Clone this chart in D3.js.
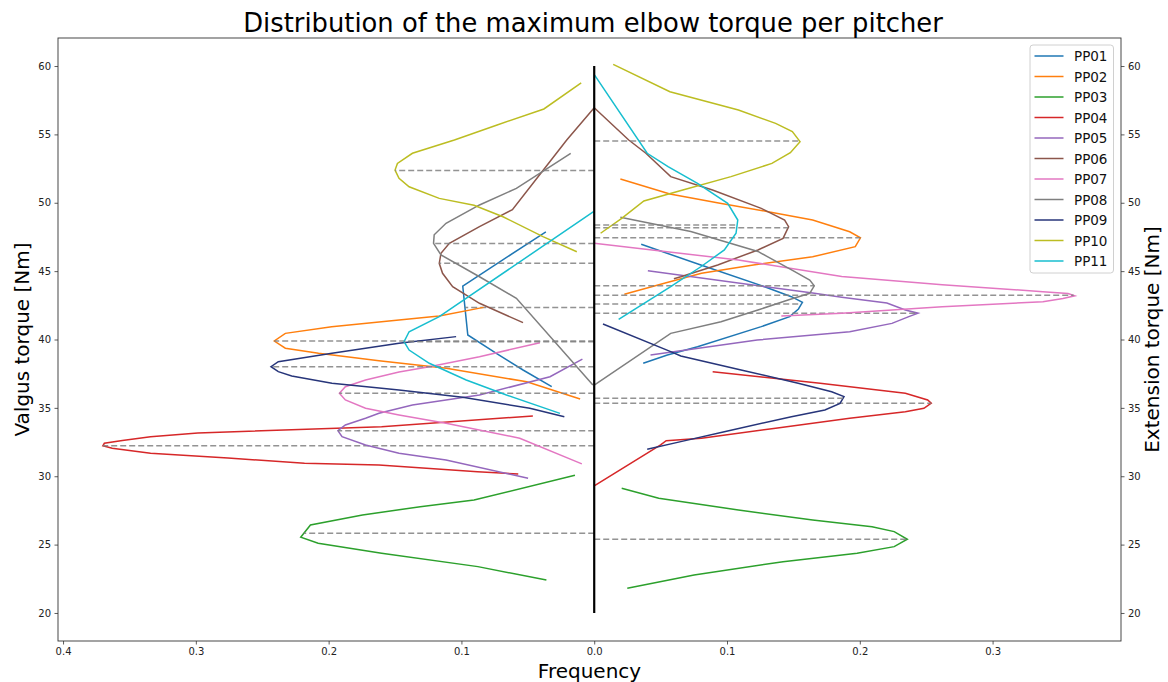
<!DOCTYPE html>
<html>
<head>
<meta charset="utf-8">
<script src="https://cdn.jsdelivr.net/npm/d3@7"></script>
<style>
  body { margin: 0; background: #fff; }
  text { font-family: 'DejaVu Sans', sans-serif; }
</style>
</head>
<body>
<div id="chart"></div>
<script>
const pitchers = ['PP01', 'PP02', 'PP03', 'PP04', 'PP05', 'PP06', 'PP07', 'PP08', 'PP09', 'PP10', 'PP11'];
const colors = ['#1f77b4', '#ff7f0e', '#2ca02c', '#d62728', '#9467bd', '#8c564b', '#e377c2', '#7f7f7f', '#27357a', '#bcbd22', '#17becf'];

// [frequency, torque] pairs, valgus drawn to the left of zero
const valgus = [
  [[0.0364, 47.88], [0.099, 43.91], [0.0952, 40.33], [0.0737, 38.99], [0.0536, 37.77], [0.032, 36.55]],
  [[0.0833, 42.35], [0.1167, 41.72], [0.147, 41.43], [0.1977, 40.94], [0.2326, 40.45], [0.2409, 39.89], [0.2326, 39.36], [0.2076, 38.99], [0.1621, 38.45], [0.1114, 37.89], [0.0508, 36.91], [0.0106, 35.65]],
  [[0.0145, 30.07], [0.0905, 28.26], [0.131, 27.77], [0.1745, 27.17], [0.2137, 26.44], [0.221, 25.54], [0.2079, 25.1], [0.1601, 24.37], [0.0876, 23.39], [0.036, 22.41]],
  [[0.0462, 34.41], [0.1601, 33.62], [0.2985, 33.16], [0.3341, 32.89], [0.3553, 32.61], [0.3689, 32.41], [0.37, 32.23], [0.363, 32.04], [0.3341, 31.68], [0.2758, 31.33], [0.2182, 30.95], [0.1621, 30.82], [0.0879, 30.33], [0.0572, 30.16]],
  [[0.0089, 38.56], [0.0333, 37.28], [0.0864, 35.94], [0.1369, 35.21], [0.1621, 34.6], [0.1722, 34.24], [0.1874, 33.75], [0.193, 33.33], [0.1899, 32.89], [0.1722, 32.29], [0.147, 31.68], [0.1116, 31.19], [0.0498, 29.85]],
  [[0, 56.95], [0.0207, 54.59], [0.0383, 52.4], [0.0616, 49.5], [0.0864, 48.25], [0.1091, 47.03], [0.1154, 46.3], [0.1167, 45.57], [0.1142, 44.84], [0.1066, 43.86], [0.0864, 42.65], [0.0536, 41.23]],
  [[0.0409, 39.77], [0.0864, 38.74], [0.1242, 38.01], [0.147, 37.62], [0.1722, 37.04], [0.1874, 36.55], [0.1919, 36.07], [0.1874, 35.58], [0.1722, 34.97], [0.147, 34.48], [0.1116, 33.87], [0.0561, 32.78], [0.0093, 30.9]],
  [[0.0177, 53.62], [0.0586, 51.05], [0.0864, 49.84], [0.1116, 48.5], [0.1205, 47.66], [0.121, 47.03], [0.1154, 46.18], [0.0864, 44.59], [0.0586, 43.01], [0.001, 36.67]],
  [[0.104, 40.21], [0.147, 39.72], [0.1975, 38.99], [0.2379, 38.38], [0.2434, 38.01], [0.2379, 37.65], [0.2278, 37.33], [0.1975, 36.8], [0.147, 36.31], [0.099, 35.77], [0.0485, 34.97], [0.0225, 34.35]],
  [[0.0098, 58.76], [0.0379, 56.86], [0.0731, 55.69], [0.1053, 54.59], [0.1369, 53.62], [0.1482, 52.88], [0.15, 52.39], [0.147, 51.79], [0.1394, 51.17], [0.1167, 50.32], [0.0905, 49.82], [0.0687, 48.98], [0.0386, 47.52], [0.0131, 46.42]],
  [[0.0005, 49.35], [0.1167, 41.67], [0.1394, 40.57], [0.1432, 39.84], [0.1394, 39.23], [0.1242, 38.26], [0.0964, 37.04], [0.0661, 35.94], [0.0258, 34.6]],
];

// [frequency, torque] pairs, extension drawn to the right of zero
const extension = [
  [[0.0354, 46.96], [0.0803, 45.45], [0.1283, 43.86], [0.1485, 43.13], [0.1568, 42.72], [0.1538, 42.23], [0.1472, 41.67], [0.1258, 40.94], [0.0778, 39.47], [0.0551, 38.87], [0.0369, 38.26]],
  [[0.0197, 51.74], [0.057, 50.64], [0.0947, 49.96], [0.131, 49.35], [0.1645, 48.74], [0.1924, 47.88], [0.2005, 47.44], [0.1966, 46.79], [0.1645, 46.05], [0.1198, 45.45], [0.0808, 44.84], [0.0528, 44.11], [0.0227, 43.31]],
  [[0.0207, 29.12], [0.0486, 28.39], [0.1086, 27.53], [0.1645, 26.8], [0.2092, 26.31], [0.2259, 25.95], [0.2358, 25.39], [0.2259, 24.85], [0.198, 24.37], [0.1422, 23.75], [0.0752, 22.78], [0.0249, 21.81]],
  [[0.0892, 37.65], [0.1701, 36.8], [0.2343, 36.07], [0.2511, 35.58], [0.2538, 35.34], [0.2483, 34.97], [0.2343, 34.72], [0.1924, 34.24], [0.1366, 33.51], [0.0808, 32.78], [0.0542, 32.6], [0.05, 32.29], [0, 29.29]],
  [[0.0404, 45.03], [0.1645, 43.4], [0.1864, 43.09], [0.2204, 42.67], [0.2343, 42.16], [0.2439, 41.92], [0.2369, 41.67], [0.2242, 41.18], [0.1924, 40.57], [0.1227, 39.96], [0.0424, 38.87]],
  [[0, 56.95], [0.026, 54.59], [0.0389, 53.62], [0.0576, 51.91], [0.0891, 50.93], [0.1258, 49.59], [0.1434, 48.74], [0.1464, 48.25], [0.1422, 47.4], [0.1233, 46.55], [0.093, 45.45], [0.0652, 44.59], [0.06, 44.45]],
  [[0, 47.04], [0.1086, 45.81], [0.1864, 44.61], [0.2621, 44.0], [0.3379, 43.5], [0.3568, 43.37], [0.3619, 43.2], [0.353, 43.0], [0.3379, 42.76], [0.2621, 42.4], [0.1864, 41.92], [0.1409, 41.72]],
  [[0.0197, 48.94], [0.0727, 47.9], [0.1233, 46.44], [0.151, 44.96], [0.1623, 44.35], [0.1657, 43.93], [0.1623, 43.38], [0.146, 42.89], [0.1233, 42.16], [0.0955, 41.3], [0.0576, 40.45], [0, 36.67]],
  [[0.0066, 41.13], [0.0576, 39.11], [0.0652, 38.79], [0.1106, 37.77], [0.1536, 36.8], [0.1788, 36.18], [0.1881, 35.82], [0.1851, 35.33], [0.1737, 34.84], [0.1485, 34.35], [0.098, 33.26], [0.0652, 32.53], [0.0399, 31.97]],
  [[0.0143, 60.12], [0.057, 58.12], [0.1086, 56.78], [0.1366, 55.81], [0.1492, 55.2], [0.155, 54.47], [0.1477, 53.66], [0.1338, 52.88], [0.103, 51.91], [0.0667, 50.93], [0.0374, 50.13], [0.0207, 48.86], [0.0048, 47.77]],
  [[0.0003, 59.34], [0.0399, 53.62], [0.0556, 52.64], [0.0778, 51.42], [0.1005, 49.96], [0.1081, 48.74], [0.1068, 47.77], [0.098, 46.55], [0.0803, 45.32], [0.0576, 43.86], [0.0184, 41.48]],
];

// torque level marked by the dashed line for each pitcher
const valgusMarks = [42.34, 39.89, 25.83, 32.23, 33.33, 45.57, 36.07, 47.03, 38.01, 52.36, 39.84];
const extensionMarks = [42.6, 47.44, 25.39, 35.34, 41.92, 48.18, 43.23, 43.93, 35.7, 54.52, 48.37];

const xTicks = [-0.4, -0.3, -0.2, -0.1, 0, 0.1, 0.2, 0.3];
const yTicks = [20, 25, 30, 35, 40, 45, 50, 55, 60];

const W = 1168;
const H = 682;
const plot = { left: 58, right: 1121, top: 38, bottom: 641 };

const svg = d3
  .select('#chart')
  .append('svg')
  .attr('width', W)
  .attr('height', H);

const x = d3.scaleLinear().domain([-0.4038, 0.3967]).range([plot.left, plot.right]);
const y = d3.scaleLinear().domain([17.95, 62.05]).range([plot.bottom, plot.top]);

// frequency of a curve at a given torque (largest if crossed more than once)
const freqAt = (curve, t) => {
  let best = 0;
  for (let i = 0; i < curve.length - 1; i++) {
    const [f0, t0] = curve[i];
    const [f1, t1] = curve[i + 1];
    if ((t - t0) * (t - t1) <= 0 && t0 !== t1) {
      const f = f0 + ((t - t0) / (t1 - t0)) * (f1 - f0);
      best = Math.max(best, f);
    }
  }
  return best;
};

const leftLine = d3.line().x((d) => x(-d[0])).y((d) => y(d[1]));
const rightLine = d3.line().x((d) => x(d[0])).y((d) => y(d[1]));

const g = svg.append('g');

pitchers.forEach((p, i) => {
  g.append('path')
    .datum(valgus[i])
    .attr('d', leftLine)
    .attr('fill', 'none')
    .attr('stroke', colors[i])
    .attr('stroke-width', 1.5);
  g.append('path')
    .datum(extension[i])
    .attr('d', rightLine)
    .attr('fill', 'none')
    .attr('stroke', colors[i])
    .attr('stroke-width', 1.5);

  // dashed markers
  g.append('line')
    .attr('x1', x(0))
    .attr('x2', x(-freqAt(valgus[i], valgusMarks[i])))
    .attr('y1', y(valgusMarks[i]))
    .attr('y2', y(valgusMarks[i]))
    .attr('stroke', '#808080')
    .attr('stroke-opacity', 0.85)
    .attr('stroke-width', 1.5)
    .attr('stroke-dasharray', '6,3');
  g.append('line')
    .attr('x1', x(0))
    .attr('x2', x(freqAt(extension[i], extensionMarks[i])))
    .attr('y1', y(extensionMarks[i]))
    .attr('y2', y(extensionMarks[i]))
    .attr('stroke', '#808080')
    .attr('stroke-opacity', 0.85)
    .attr('stroke-width', 1.5)
    .attr('stroke-dasharray', '6,3');
});

// zero line
g.append('line')
  .attr('x1', x(0))
  .attr('x2', x(0))
  .attr('y1', y(20))
  .attr('y2', y(60))
  .attr('stroke', '#000')
  .attr('stroke-width', 2.2);

// axes
const xAxis = svg
  .append('g')
  .attr('transform', `translate(0,${plot.bottom})`)
  .call(d3.axisBottom(x).tickValues(xTicks).tickSize(3.5).tickPadding(3).tickFormat((t) => Math.abs(t).toFixed(1)));

const yAxisL = svg
  .append('g')
  .attr('transform', `translate(${plot.left},0)`)
  .call(d3.axisLeft(y).tickValues(yTicks).tickSize(3.5).tickPadding(3.5));

const yAxisR = svg
  .append('g')
  .attr('transform', `translate(${plot.right},0)`)
  .call(d3.axisRight(y).tickValues(yTicks).tickSize(3.5).tickPadding(3.5));

[xAxis, yAxisL, yAxisR].forEach((a) => {
  a.select('.domain').remove();
  a.selectAll('line').attr('stroke', '#333').attr('stroke-width', 0.8);
  a.selectAll('text').attr('font-size', 10).attr('fill', '#222').style('font-family', 'DejaVu Sans');
});

// frame
svg
  .append('rect')
  .attr('x', plot.left)
  .attr('y', plot.top)
  .attr('width', plot.right - plot.left)
  .attr('height', plot.bottom - plot.top)
  .attr('fill', 'none')
  .attr('stroke', '#333')
  .attr('stroke-width', 0.9);

// titles
svg
  .append('text')
  .attr('x', 593)
  .attr('y', 32)
  .attr('text-anchor', 'middle')
  .attr('font-size', 25.8)
  .text('Distribution of the maximum elbow torque per pitcher');

svg
  .append('text')
  .attr('x', (plot.left + plot.right) / 2)
  .attr('y', 678)
  .attr('text-anchor', 'middle')
  .attr('font-size', 20)
  .text('Frequency');

svg
  .append('text')
  .attr('transform', `translate(29,${(plot.top + plot.bottom) / 2}) rotate(-90)`)
  .attr('text-anchor', 'middle')
  .attr('font-size', 20)
  .text('Valgus torque [Nm]');

svg
  .append('text')
  .attr('transform', `translate(1159,${(plot.top + plot.bottom) / 2}) rotate(-90)`)
  .attr('text-anchor', 'middle')
  .attr('font-size', 20)
  .text('Extension torque [Nm]');

// legend
const legend = svg.append('g').attr('transform', 'translate(1030,45)');
legend
  .append('rect')
  .attr('width', 83.5)
  .attr('height', 228)
  .attr('rx', 3)
  .attr('fill', '#fff')
  .attr('fill-opacity', 0.8)
  .attr('stroke', '#d0d0d0');

pitchers.forEach((p, i) => {
  const row = legend.append('g').attr('transform', `translate(0,${11 + i * 20.5})`);
  row.append('line')
    .attr('x1', 4.5)
    .attr('x2', 33.5)
    .attr('stroke', colors[i])
    .attr('stroke-width', 1.5);
  row.append('text')
    .attr('x', 44)
    .attr('y', 5)
    .attr('font-size', 13.5)
    .attr('fill', '#111')
    .text(p);
});
</script>
</body>
</html>
